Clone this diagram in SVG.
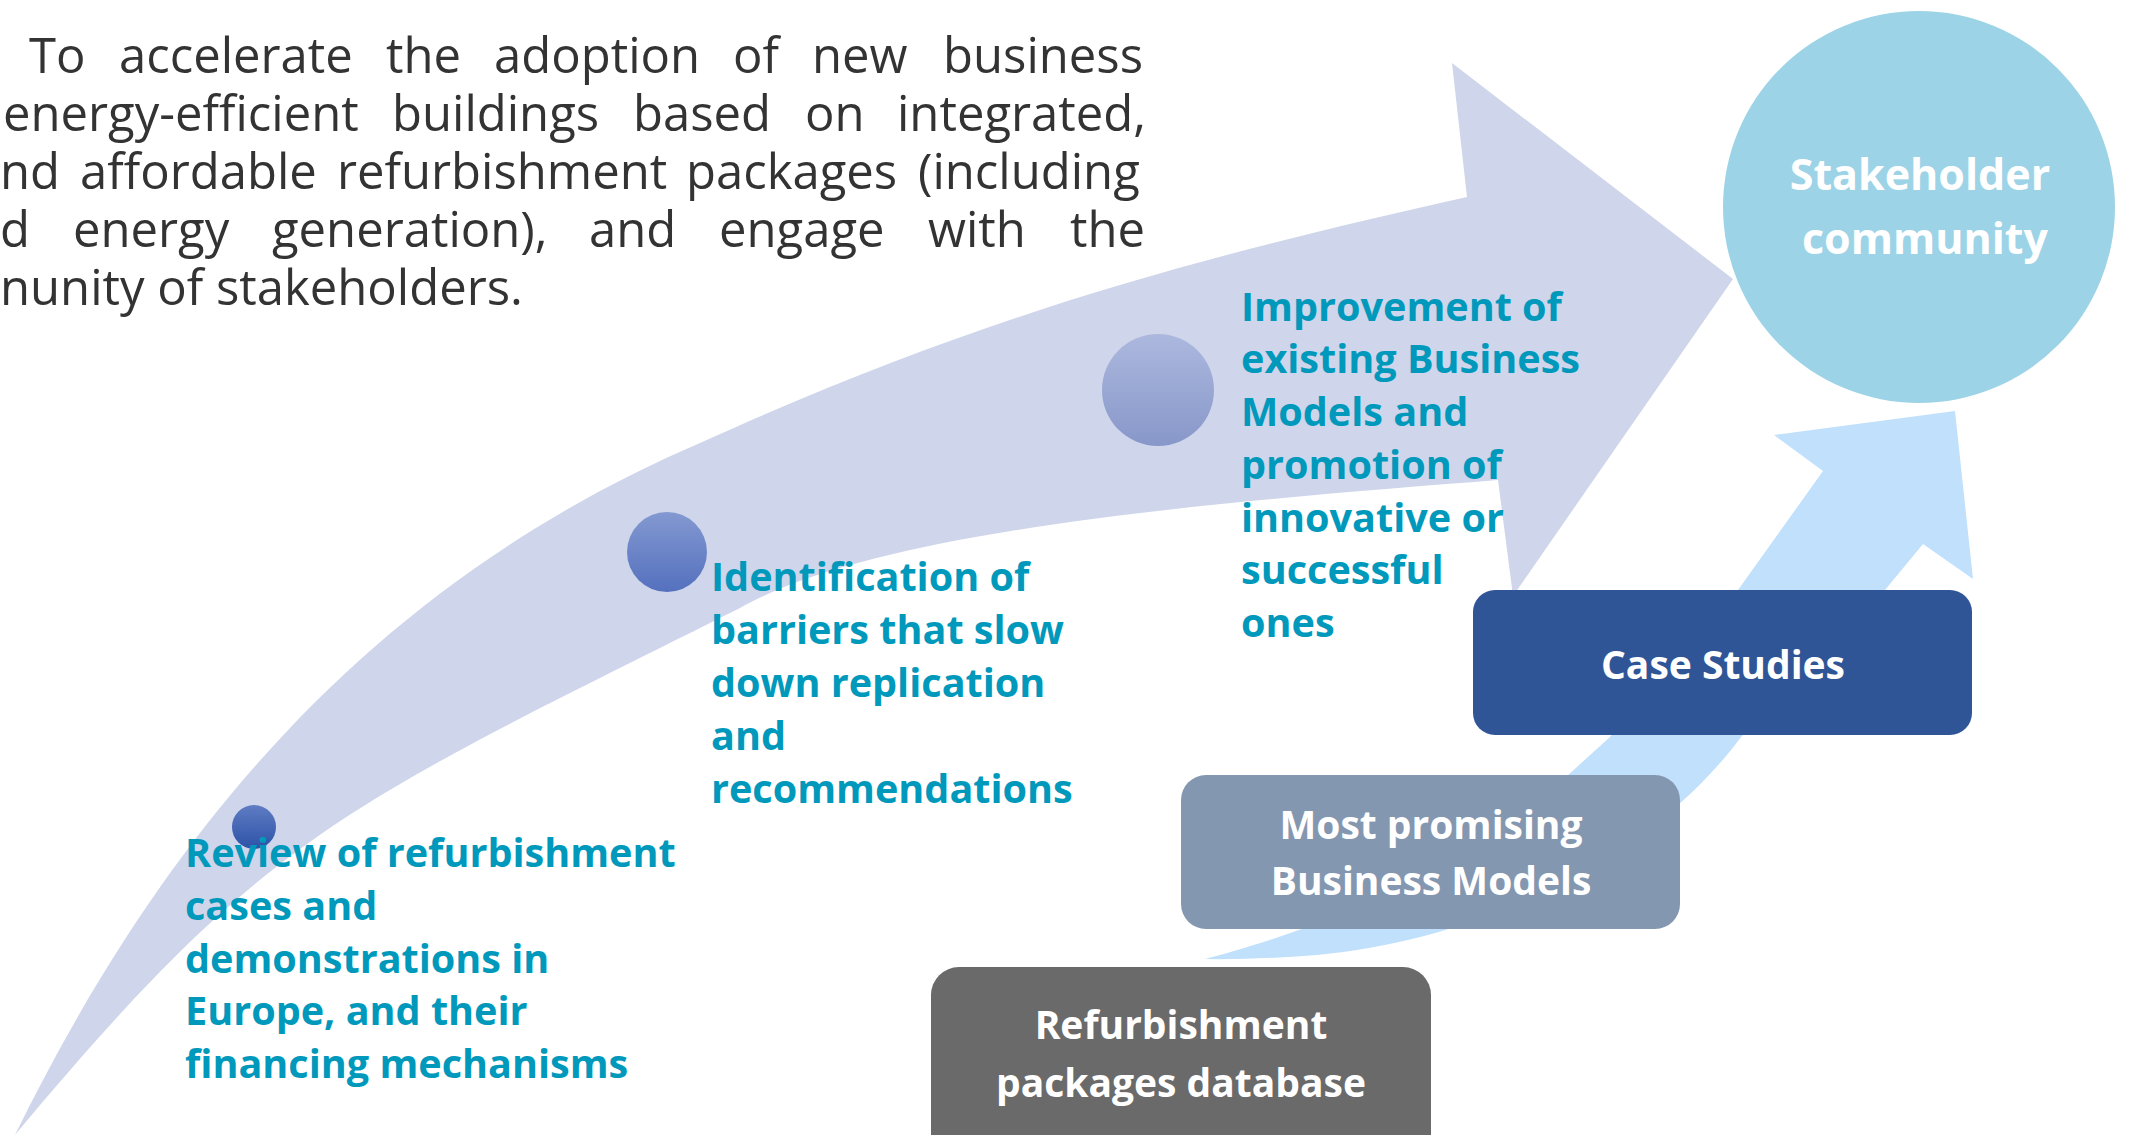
<svg xmlns="http://www.w3.org/2000/svg" width="2131" height="1135" viewBox="0 0 2131 1135">
<defs>
<style>
.intro{font-family:"Open Sans","Noto Sans",sans-serif;font-size:49px;fill:#333333;}
.step{font-family:"Open Sans","Noto Sans",sans-serif;font-size:39.6px;font-weight:bold;fill:#0099BC;}
.lbl{font-family:"Open Sans","Noto Sans",sans-serif;font-size:39px;font-weight:bold;fill:#ffffff;text-anchor:middle;}
.big{fill:#CFD5EA;}
.small{fill:#C0E0FC;}
</style>
<linearGradient id="g1" x1="0" y1="0" x2="0" y2="1"><stop offset="0" stop-color="#5F7CC4"/><stop offset="1" stop-color="#2D52A6"/></linearGradient>
<linearGradient id="g2" x1="0" y1="0" x2="0" y2="1"><stop offset="0" stop-color="#8399D1"/><stop offset="1" stop-color="#5571BE"/></linearGradient>
<linearGradient id="g3" x1="0" y1="0" x2="0" y2="1"><stop offset="0" stop-color="#ACB8DE"/><stop offset="1" stop-color="#8797C9"/></linearGradient>
</defs>
<rect width="2131" height="1135" fill="#ffffff"/>

<g id="intro-text" class="intro">
<text y="73"><tspan x="29">To</tspan><tspan x="119">accelerate</tspan><tspan x="386">the</tspan><tspan x="494">adoption</tspan><tspan x="733">of</tspan><tspan x="812">new</tspan><tspan x="943">business</tspan></text>
<text y="131"><tspan x="3">energy-efficient</tspan><tspan x="392">buildings</tspan><tspan x="633">based</tspan><tspan x="805">on</tspan><tspan x="897">integrated,</tspan></text>
<text y="189"><tspan x="0">nd</tspan><tspan x="80">affordable</tspan><tspan x="337">refurbishment</tspan><tspan x="686">packages</tspan><tspan x="918">(including</tspan></text>
<text y="247"><tspan x="0">d</tspan><tspan x="73">energy</tspan><tspan x="272">generation),</tspan><tspan x="589">and</tspan><tspan x="719">engage</tspan><tspan x="928">with</tspan><tspan x="1070">the</tspan></text>
<text y="305"><tspan x="0">nunity of stakeholders.</tspan></text>
</g>

<g id="connectors">
<path id="main-arrow" class="big" d="M15,1135 C165,830 370,585 700,443 C984,314 1200,257 1467,197 L1452,63 L1733,279 L1513,596 L1498,480 C1230,501 881,528 740,608 C340,808 265,835 15,1135 Z"/>
<path id="rising-arrow" class="small" d="M1205,959 C1300,935 1480,870 1567,776 L1610,737 L1738,590 L1823,471 L1774,435 L1955,411 L1973,579 L1923,544 L1885,590 L1741,737 C1650,860 1480,940 1317,955 Q1250,960 1205,959 Z"/>
</g>

<g id="step1">
<circle cx="254" cy="827" r="22" fill="url(#g1)"/>
<text class="step"><tspan x="185" y="867">Review of refurbishment</tspan><tspan x="185" y="920">cases and</tspan><tspan x="185" y="973">demonstrations in</tspan><tspan x="185" y="1025">Europe, and their</tspan><tspan x="185" y="1078">financing mechanisms</tspan></text>
</g>

<g id="step2">
<circle cx="667" cy="552" r="40" fill="url(#g2)"/>
<text class="step"><tspan x="711" y="591">Identification of</tspan><tspan x="711" y="644">barriers that slow</tspan><tspan x="711" y="697">down replication</tspan><tspan x="711" y="750">and</tspan><tspan x="711" y="803">recommendations</tspan></text>
</g>

<g id="step3">
<circle cx="1158" cy="390" r="56" fill="url(#g3)"/>
<text class="step"><tspan x="1241" y="321">Improvement of</tspan><tspan x="1241" y="373">existing Business</tspan><tspan x="1241" y="426">Models and</tspan><tspan x="1241" y="479">promotion of</tspan><tspan x="1241" y="532">innovative or</tspan><tspan x="1241" y="584">successful</tspan><tspan x="1241" y="637">ones</tspan></text>
</g>

<g id="stakeholder-community">
<circle cx="1919" cy="207" r="196" fill="#9DD3E7"/>
<text class="lbl" style="font-size:43px"><tspan x="1920" y="190">Stakeholder</tspan><tspan x="1925" y="254">community</tspan></text>
</g>

<g id="refurbishment-db">
<rect x="931" y="967" width="500" height="200" rx="28" fill="#6A6A6A"/>
<text class="lbl"><tspan x="1181" y="1039">Refurbishment</tspan><tspan x="1181" y="1097">packages database</tspan></text>
</g>

<g id="business-models">
<rect x="1181" y="775" width="499" height="154" rx="25" fill="#8497B0"/>
<text class="lbl"><tspan x="1431" y="839">Most promising</tspan><tspan x="1431" y="895">Business Models</tspan></text>
</g>

<g id="case-studies">
<rect x="1473" y="590" width="499" height="145" rx="22" fill="#2F5597"/>
<text class="lbl" x="1723" y="679">Case Studies</text>
</g>
</svg>
